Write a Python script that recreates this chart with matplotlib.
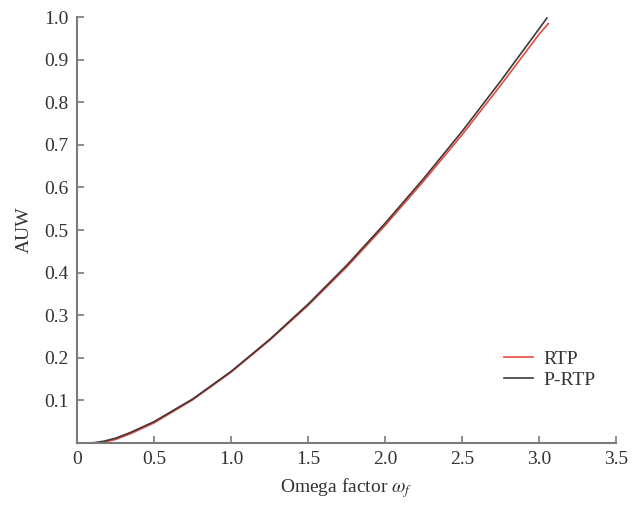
import matplotlib.pyplot as plt

# AUW against omega factor
omega_prtp = [0.1, 0.175, 0.25, 0.35, 0.5, 0.75, 1.0, 1.25, 1.5, 1.75,
              2.0, 2.25, 2.5, 2.75, 3.0, 3.05]
auw_prtp = [0.0, 0.004, 0.011, 0.025, 0.05, 0.103, 0.168, 0.243, 0.326, 0.417,
            0.516, 0.621, 0.732, 0.85, 0.973, 0.998]

omega_rtp = [0.13, 0.175, 0.25, 0.35, 0.5, 0.75, 1.0, 1.25, 1.5, 1.75,
             2.0, 2.25, 2.5, 2.75, 3.0, 3.06]
auw_rtp = [0.0, 0.002, 0.008, 0.022, 0.047, 0.101, 0.166, 0.241, 0.323, 0.413,
           0.511, 0.615, 0.724, 0.84, 0.96, 0.985]

x_ticks = [0, 0.5, 1.0, 1.5, 2.0, 2.5, 3.0, 3.5]
x_tick_labels = ['0', '0.5', '1.0', '1.5', '2.0', '2.5', '3.0', '3.5']
y_ticks = [0.1, 0.2, 0.3, 0.4, 0.5, 0.6, 0.7, 0.8, 0.9, 1.0]

plt.rcParams['font.family'] = ['Liberation Serif', 'DejaVu Serif']
plt.rcParams['mathtext.fontset'] = 'stix'

fig = plt.figure(figsize=(6.32, 5.05), dpi=100)
ax = fig.add_axes([0.122, 0.123, 0.853, 0.843])

ax.plot(omega_rtp, auw_rtp, color='#e8493c', lw=1.2, label='RTP')
ax.plot(omega_prtp, auw_prtp, color='#3a3a3a', lw=1.2, label='P-RTP')

ax.set_xlim(0, 3.5)
ax.set_ylim(0, 1.0)
ax.set_xticks(x_ticks)
ax.set_xticklabels(x_tick_labels)
ax.set_yticks(y_ticks)
ax.set_yticklabels([f'{v:.1f}' for v in y_ticks])

for side in ['top', 'right']:
    ax.spines[side].set_visible(False)
for side in ['left', 'bottom']:
    ax.spines[side].set_color('#7a7a7a')
    ax.spines[side].set_linewidth(1.5)

ax.tick_params(direction='in', length=5, width=1.2, color='#7a7a7a',
               labelsize=14, labelcolor='#333333', pad=6)

ax.set_xlabel(r'Omega factor $\omega_f$', fontsize=14, color='#333333', labelpad=6)
ax.set_ylabel('AUW', fontsize=14, color='#333333', labelpad=8)

ax.legend(loc='center left', bbox_to_anchor=(0.76, 0.172), frameon=False,
          fontsize=14, handlelength=1.5, handletextpad=0.5, labelspacing=0.2,
          labelcolor='#333333')

fig.savefig('out.png', dpi=100)
